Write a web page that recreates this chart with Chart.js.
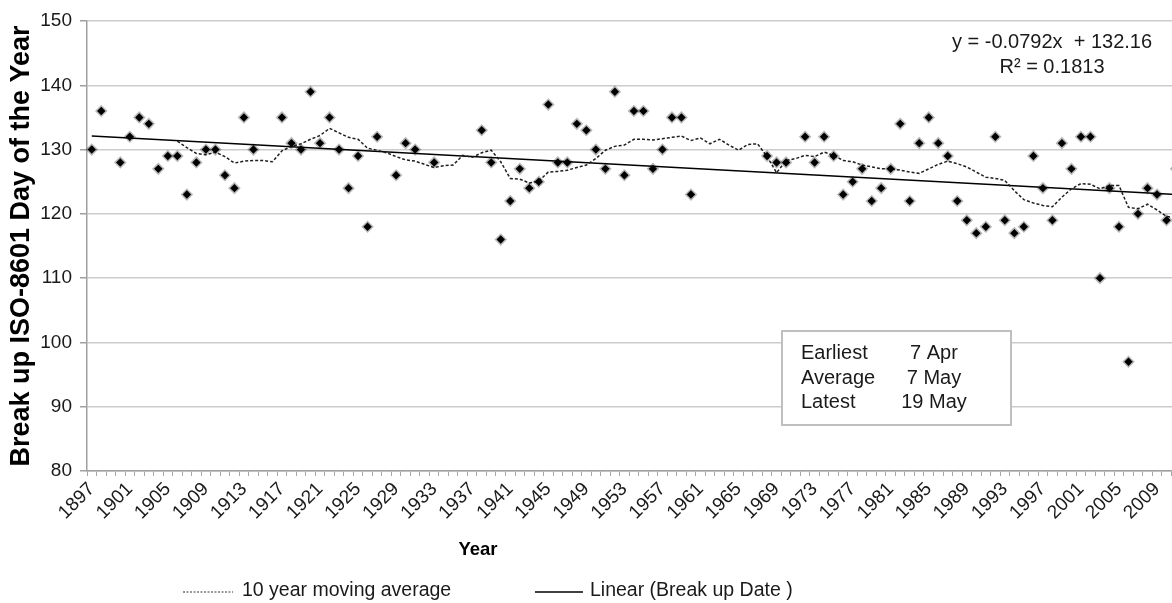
<!DOCTYPE html>
<html>
<head>
<meta charset="utf-8">
<script src="https://cdn.jsdelivr.net/npm/chart.js@4.4.1/dist/chart.umd.min.js"></script>
<style>
  html, body { margin: 0; padding: 0; background: #fff; overflow: hidden; }
  #wrap { width: 1172px; height: 603px; overflow: hidden; position: relative; }
  canvas { display: block; }
</style>
</head>
<body>
<div id="wrap"><canvas id="c" width="1188" height="603" style="width:1188px;height:603px"></canvas></div>
<script>
// ---- data ----
const years = [1897,1898,1899,1900,1901,1902,1903,1904,1905,1906,
  1907,1908,1909,1910,1911,1912,1913,1914,1915,1916,
  1917,1918,1919,1920,1921,1922,1923,1924,1925,1926,
  1927,1928,1929,1930,1931,1932,1933,1934,1935,1936,
  1937,1938,1939,1940,1941,1942,1943,1944,1945,1946,
  1947,1948,1949,1950,1951,1952,1953,1954,1955,1956,
  1957,1958,1959,1960,1961,1962,1963,1964,1965,1966,
  1967,1968,1969,1970,1971,1972,1973,1974,1975,1976,
  1977,1978,1979,1980,1981,1982,1983,1984,1985,1986,
  1987,1988,1989,1990,1991,1992,1993,1994,1995,1996,
  1997,1998,1999,2000,2001,2002,2003,2004,2005,2006,
  2007,2008,2009,2010,2011];

const breakUpDate = [130,136,null,128,132,135,134,127,129,129,
  123,128,130,130,126,124,135,130,null,null,
  135,131,130,139,131,135,130,124,129,118,
  132,null,126,131,130,null,128,null,null,null,
  null,133,128,116,122,127,124,125,137,128,
  128,134,133,130,127,139,126,136,136,127,
  130,135,135,123,null,null,null,null,null,null,
  null,129,128,128,null,132,128,132,129,123,
  125,127,122,124,127,134,122,131,135,131,
  129,122,119,117,118,132,119,117,118,129,
  124,119,131,127,132,132,110,124,118,97,
  120,124,123,119,127];

const movingAverage10 = [null,null,null,null,null,null,null,null,null,131.3,
  130.3,129.4,129.2,129.6,128.9,127.9,128.2,128.3,128.3,128.1,
  129.8,130.5,130.9,131.6,132.2,133.3,132.6,131.9,131.6,130.2,
  129.9,129.5,128.9,128.4,128.2,127.7,127.2,127.5,127.6,129.1,
  128.8,129.5,129.9,128.1,125.5,125.4,124.8,125.1,126.5,126.6,
  126.8,127.2,127.6,128.6,129.9,130.5,130.7,131.6,131.6,131.5,
  131.7,131.9,132.1,131.4,131.8,130.9,131.6,130.7,129.9,130.8,
  130.9,128.9,126.4,128.3,128.6,129.1,128.9,129.6,129.1,128.3,
  128.1,127.6,127.3,127.0,127.0,126.8,126.5,126.3,127.0,127.7,
  128.2,127.8,127.3,126.5,125.7,125.5,125.2,123.6,122.2,121.7,
  121.3,121.1,122.6,123.9,124.7,124.6,123.9,124.4,124.4,121.0,
  120.8,121.5,120.6,119.6,119.4];

// linear trendline end points
const trendStart = 132.1;   // at 1897
const trendEnd = 123.0;     // at 2011

const tickYears = ['1897','1901','1905','1909','1913','1917','1921','1925','1929','1933',
  '1937','1941','1945','1949','1953','1957','1961','1965','1969','1973',
  '1977','1981','1985','1989','1993','1997','2001','2005','2009'];

const yTicks = [80, 90, 100, 110, 120, 130, 140, 150];

const equationLines = ['y = -0.0792x  + 132.16', 'R\u00B2 = 0.1813'];
const infoLabels = ['Earliest', 'Average', 'Latest'];
const infoValues = ['7 Apr', '7 May', '19 May'];
const legendLabels = ['10 year moving average', 'Linear (Break up Date )'];

// ---- build ----
const labels = years.map(String);
const trendData = years.map((y, i) => i === 0 ? trendStart : (i === years.length - 1 ? trendEnd : null));

const FONT = "'Liberation Sans', Arial, sans-serif";
Chart.defaults.font.family = FONT;

const annotations = {
  id: 'annotations',
  afterDraw(chart) {
    const ctx = chart.ctx;
    ctx.save();
    // info box
    ctx.fillStyle = '#ffffff';
    ctx.fillRect(782, 331, 229, 94);
    ctx.strokeStyle = '#bfbfbf';
    ctx.lineWidth = 2;
    ctx.strokeRect(782, 331, 229, 94);
    ctx.fillStyle = '#1a1a1a';
    ctx.font = '20px ' + FONT;
    ctx.textBaseline = 'middle';
    const rowY = [353, 378, 402];
    infoLabels.forEach((t, i) => { ctx.textAlign = 'left'; ctx.fillText(t, 801, rowY[i]); });
    infoValues.forEach((t, i) => { ctx.textAlign = 'center'; ctx.fillText(t, 934, rowY[i]); });

    // equation
    ctx.textAlign = 'center';
    ctx.fillText(equationLines[0], 1052, 42);
    ctx.fillText(equationLines[1], 1052, 67);

    // x axis title
    ctx.font = 'bold 18.5px ' + FONT;
    ctx.fillStyle = '#000';
    ctx.fillText('Year', 478, 550);

    // legend
    ctx.font = '19.5px ' + FONT;
    ctx.fillStyle = '#1a1a1a';
    ctx.textAlign = 'left';
    ctx.strokeStyle = '#333';
    ctx.lineWidth = 1.2;
    ctx.setLineDash([2, 1.5]);
    ctx.beginPath(); ctx.moveTo(183, 592); ctx.lineTo(233, 592); ctx.stroke();
    ctx.fillText(legendLabels[0], 242, 591);
    ctx.setLineDash([]);
    ctx.strokeStyle = '#000';
    ctx.lineWidth = 1.5;
    ctx.beginPath(); ctx.moveTo(535, 592); ctx.lineTo(583, 592); ctx.stroke();
    ctx.fillText(legendLabels[1], 590, 591);
    ctx.restore();
  }
};

new Chart(document.getElementById('c'), {
  type: 'line',
  data: {
    labels: labels,
    datasets: [
      {
        label: 'Break up Date',
        data: breakUpDate,
        showLine: false,
        pointStyle: 'rectRot',
        pointRadius: 4.2,
        pointBackgroundColor: '#000',
        pointBorderColor: 'rgba(0,0,0,0.28)',
        pointBorderWidth: 3,
        pointHoverRadius: 4.2,
        order: 0
      },
      {
        label: legendLabels[0],
        data: movingAverage10,
        borderColor: '#1f1f1f',
        borderWidth: 1.5,
        borderDash: [3, 2],
        pointRadius: 0,
        fill: false,
        tension: 0,
        order: 1
      },
      {
        label: legendLabels[1],
        data: trendData,
        borderColor: '#000',
        borderWidth: 1.5,
        pointRadius: 0,
        spanGaps: true,
        fill: false,
        order: 2
      }
    ]
  },
  options: {
    responsive: false,
    animation: false,
    devicePixelRatio: 1,
    layout: { padding: { left: 0, right: 0, top: 21, bottom: 0 } },
    plugins: {
      legend: { display: false },
      tooltip: { enabled: false }
    },
    events: [],
    scales: {
      x: {
        type: 'category',
        offset: true,
        afterFit: (s) => { s.height = 132; s.paddingRight = 0; s.paddingLeft = 0; },
        grid: {
          display: true,
          offset: true,
          drawOnChartArea: false,
          drawTicks: true,
          tickLength: 5,
          color: '#a6a6a6',
          lineWidth: 1
        },
        border: { display: true, color: '#a0a0a0', width: 1.5 },
        ticks: {
          autoSkip: false,
          maxRotation: 45,
          minRotation: 45,
          padding: 2,
          color: '#1a1a1a',
          font: { size: 19, family: FONT },
          callback: function (value) {
            const lab = this.getLabelForValue(value);
            return tickYears.includes(lab) ? lab : '';
          }
        },
        title: { display: false }
      },
      y: {
        min: 80,
        max: 150,
        afterFit: (s) => { s.width = 87; },
        afterBuildTicks: (s) => { s.ticks = yTicks.map(v => ({ value: v })); },
        grid: {
          color: '#cccccc',
          lineWidth: 1.5,
          tickLength: 7,
          tickColor: '#a0a0a0'
        },
        border: { display: true, color: '#a0a0a0', width: 1.5 },
        ticks: {
          padding: 8,
          color: '#1a1a1a',
          font: { size: 19, family: FONT }
        },
        title: {
          display: true,
          text: 'Break up ISO-8601 Day of the Year',
          color: '#000',
          font: { size: 27, weight: 'bold', family: FONT },
          padding: { top: 5, bottom: 0 }
        }
      }
    }
  },
  plugins: [annotations]
});
</script>
</body>
</html>
